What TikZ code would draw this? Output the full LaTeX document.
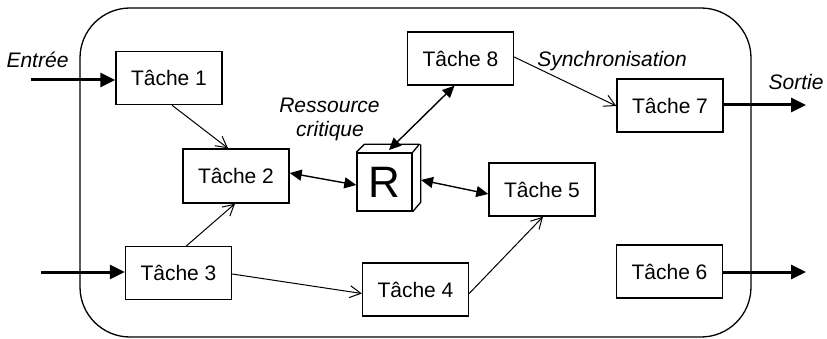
\documentclass[tikz,border=0pt]{standalone}
\usepackage{fontspec}
\setmainfont{Liberation Sans}
\usetikzlibrary{arrows.meta}
\begin{document}
\begin{tikzpicture}[x=1pt,y=-1pt,
  task/.style={draw,line width=1.4pt,minimum width=106pt,minimum height=53pt,inner sep=0pt,font=\fontsize{21}{25}\selectfont},
  lbl/.style={font=\fontsize{21}{25}\selectfont\itshape,inner sep=0pt,anchor=base},
  thinarr/.style={line width=1pt,-{Straight Barb[length=11pt,width=12pt]}},
  thickarr/.style={line width=3pt,-{Triangle[length=15pt,width=14pt]}},
  botharr/.style={line width=1.4pt,{Triangle[length=12pt,width=11pt]}-{Triangle[length=12pt,width=11pt]}}]
\useasboundingbox (0,0) rectangle (827,339);
\draw[line width=1.3pt,rounded corners=50pt] (80,8) rectangle (751,337);
\node[task] (t1) at (169,78) {Tâche 1};
\node[task] (t8) at (460.5,58.5) {Tâche 8};
\node[task] (t7) at (670,105.5) {Tâche 7};
\node[task,minimum height=54pt] (t2) at (236,176) {Tâche 2};
\node[task] (t5) at (542,189.5) {Tâche 5};
\node[task] (t3) at (178.5,273) {Tâche 3};
\node[task] (t4) at (415.5,289.5) {Tâche 4};
\node[task] (t6) at (669.5,271.5) {Tâche 6};
\node[draw,line width=1.4pt,minimum width=55pt,minimum height=58pt,inner sep=0pt,font=\fontsize{44}{48}\selectfont] (R) at (384.5,182) {R};
\draw[line width=1.3pt,line join=round] (R.north west) -- ++(8,-8) -- ++(55,0) -- (R.north east);
\draw[line width=1.3pt,line join=round] (R.north east) ++(8,-8) -- ++(0,58) -- (R.south east);
\node[lbl] (lin) at (37.5,68) {Entrée};
\node[lbl] (lres) at (329.5,113) {Ressource};
\node[lbl] (lcrit) at (330,137) {critique};
\node[lbl] (lsync) at (612,67) {Synchronisation};
\node[lbl] (lout) at (796,90) {Sortie};
\coordinate (in1) at (31,80);
\coordinate (in3) at (41,272);
\coordinate (out7) at (806,105);
\coordinate (out6) at (806,272);
\draw[thickarr] (in1) -- (in1 -| t1.west);
\draw[thickarr] (in3) -- (in3 -| t3.west);
\draw[thickarr] (out7 -| t7.east) -- (out7);
\draw[thickarr] (out6 -| t6.east) -- (out6);
\draw[thinarr] ([xshift=3pt]t1.south) -- ([xshift=-8pt]t2.north);
\draw[thinarr] ([xshift=8pt]t3.north) -- ([xshift=-1pt]t2.south);
\draw[thinarr] ([yshift=-1pt]t3.east) -- ([yshift=-4pt]t4.west);
\draw[thinarr] ([yshift=-4pt]t4.east) -- ([xshift=1pt]t5.south);
\draw[thinarr] ([yshift=1.5pt]t8.east) -- ([yshift=-0.5pt]t7.west);
\draw[botharr] ([yshift=3pt]t2.east) -- ([yshift=-3pt]R.west);
\coordinate (Rside) at (421,180);
\coordinate (Rtop) at (389,150);
\draw[botharr] (Rside) -- ([yshift=-4.5pt]t5.west);
\draw[botharr] (Rtop) -- ([xshift=-6pt]t8.south);
\end{tikzpicture}
\end{document}
